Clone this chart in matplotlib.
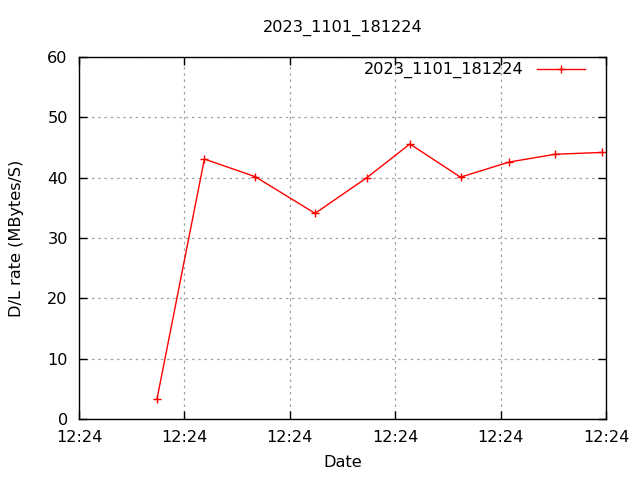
import pandas as pd
import matplotlib
matplotlib.use("Agg")
import matplotlib.pyplot as plt
import matplotlib.dates as mdates

title = "2023_1101_181224"
times = ["2023-11-01 12:24:07.4", "2023-11-01 12:24:11.9", "2023-11-01 12:24:16.7",
         "2023-11-01 12:24:22.4", "2023-11-01 12:24:27.3", "2023-11-01 12:24:31.4",
         "2023-11-01 12:24:36.2", "2023-11-01 12:24:40.8", "2023-11-01 12:24:45.2",
         "2023-11-01 12:24:49.65"]
rate = [3.3, 43.1, 40.2, 34.1, 40.0, 45.6, 40.1, 42.6, 43.9, 44.2]
x_start = "2023-11-01 12:24:00"
x_end = "2023-11-01 12:24:50"

t = pd.to_datetime(times)
fs = 11.6

plt.rcParams["font.family"] = "DejaVu Sans"
fig = plt.figure(figsize=(6.4, 4.8), dpi=100)
ax = fig.add_axes([0.1234, 0.127, 0.8234, 0.754])

ax.plot(t, rate, color="red", lw=1, marker="+", ms=6, mew=1, label=title)

ax.set_xlim(pd.Timestamp(x_start), pd.Timestamp(x_end))
ax.set_ylim(0, 60)
ax.set_yticks(range(0, 61, 10))
ax.xaxis.set_major_locator(mdates.SecondLocator(bysecond=range(0, 60, 10)))
ax.xaxis.set_major_formatter(mdates.DateFormatter("%H:%M"))

ax.grid(True, color="#a0a0a0", linestyle=(0, (2, 3)), lw=0.9)
ax.tick_params(direction="in", length=6, width=1, top=True, right=True,
               labelsize=fs, pad=8)
for s in ax.spines.values():
    s.set_linewidth(1)

ax.set_xlabel("Date", fontsize=fs, labelpad=7)
ax.set_ylabel("D/L rate (MBytes/S)", fontsize=fs, labelpad=16.5)
ax.set_title(title, fontsize=fs, pad=18)
ax.legend(loc="upper right", bbox_to_anchor=(0.960, 0.986), frameon=False,
          markerfirst=False, fontsize=fs, handlelength=3.0, borderaxespad=0,
          borderpad=0, handletextpad=0.8)

fig.savefig("out.png", dpi=100)
